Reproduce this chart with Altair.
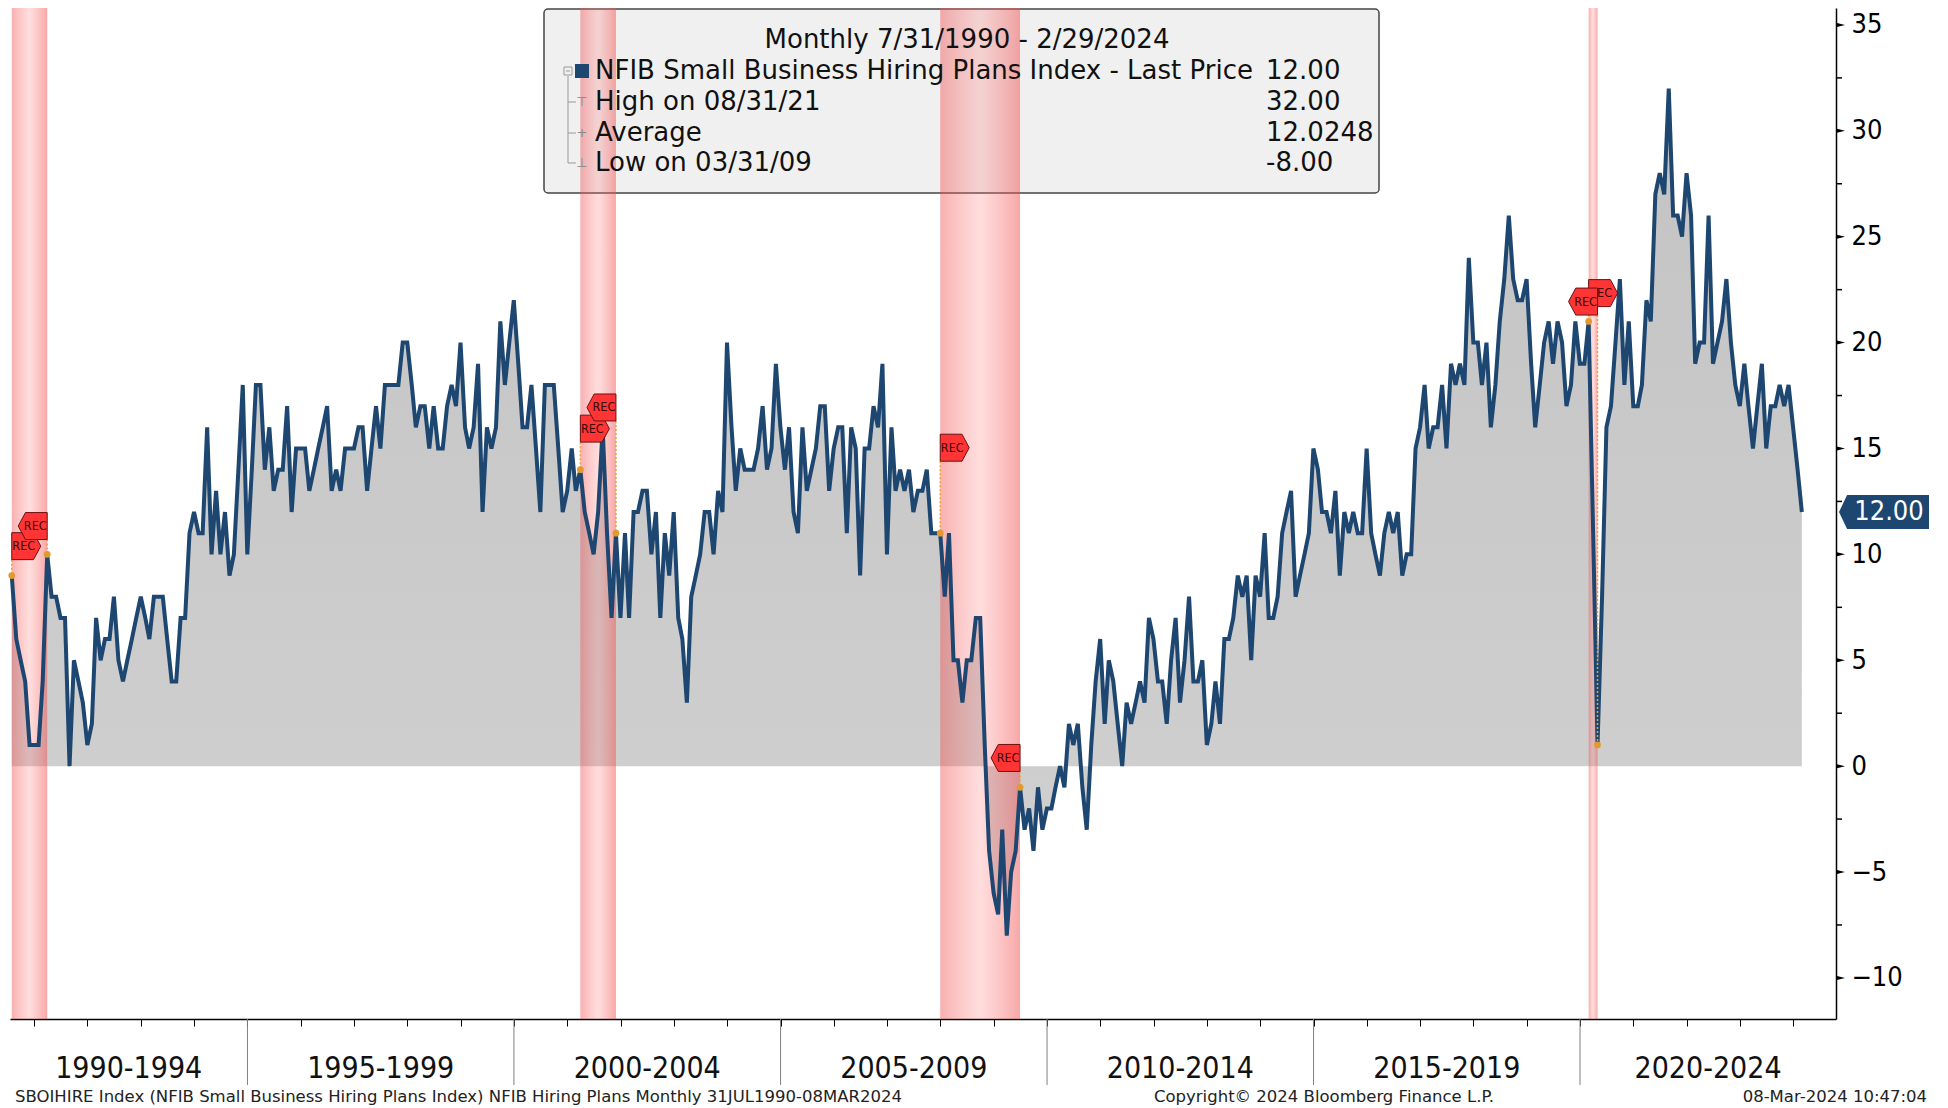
import altair as alt
import pandas as pd

FONT = "DejaVu Sans Condensed, Liberation Sans Narrow, DejaVu Sans, sans-serif"
FONT_WIDE = "DejaVu Sans, Verdana, sans-serif"

# ---------------- data ----------------
first_month = "1990-07-31"
values = [
    9, 6, 5, 4, 1, 1, 1, 4, 10, 8, 8, 7, 7, 0, 5, 4, 3, 1, 2, 7,
    5, 6, 6, 8, 5, 4, 5, 6, 7, 8, 7, 6, 8, 8, 8, 6, 4, 4, 7, 7,
    11, 12, 11, 11, 16, 10, 13, 10, 12, 9, 10, 14, 18, 10, 14, 18, 18, 14, 16, 13,
    14, 14, 17, 12, 15, 15, 15, 13, 14, 15, 16, 17, 13, 14, 13, 15, 15, 15, 16, 16,
    13, 15, 17, 15, 18, 18, 18, 18, 20, 20, 18, 16, 17, 17, 15, 17, 15, 15, 17, 18,
    17, 20, 16, 15, 16, 19, 12, 16, 15, 16, 21, 18, 20, 22, 19, 16, 16, 18, 15, 12,
    18, 18, 18, 15, 12, 13, 15, 13, 14, 12, 11, 10, 12, 16, 11, 7, 11, 7, 11, 7,
    12, 12, 13, 13, 10, 12, 7, 11, 9, 12, 7, 6, 3, 8, 9, 10, 12, 12, 10, 13,
    12, 20, 16, 13, 15, 14, 14, 14, 15, 17, 14, 15, 19, 16, 14, 16, 12, 11, 16, 13,
    14, 15, 17, 17, 13, 15, 16, 16, 11, 16, 15, 9, 15, 15, 17, 16, 19, 10, 16, 13,
    14, 13, 14, 12, 13, 13, 14, 11, 11, 11, 8, 11, 5, 5, 3, 5, 5, 7, 7, 1,
    -4, -6, -7, -3, -8, -5, -4, -1, -3, -2, -4, -1, -3, -2, -2, -1, 0, -1, 2, 1,
    2, -1, -3, 1, 4, 6, 2, 5, 4, 2, 0, 3, 2, 3, 4, 3, 7, 6, 4, 4,
    2, 5, 7, 3, 5, 8, 4, 4, 5, 1, 2, 4, 2, 6, 6, 7, 9, 8, 9, 5,
    9, 8, 11, 7, 7, 8, 11, 12, 13, 8, 9, 10, 11, 15, 14, 12, 12, 11, 13, 9,
    12, 11, 12, 11, 11, 15, 11, 10, 9, 11, 12, 11, 12, 9, 10, 10, 15, 16, 18, 15,
    16, 16, 18, 15, 19, 18, 19, 18, 24, 20, 20, 18, 20, 16, 18, 21, 23, 26, 23, 22,
    22, 23, 19, 16, 18, 20, 21, 19, 21, 20, 17, 18, 21, 19, 19, 21, 11, 1, 8, 16,
    17, 20, 23, 18, 21, 17, 17, 18, 22, 21, 27, 28, 27, 32, 26, 26, 25, 28, 26, 19,
    20, 20, 26, 19, 20, 21, 23, 20, 18, 17, 19, 17, 15, 17, 19, 15, 17, 17, 18, 17,
    18, 16, 14, 12,
]

rec_start = ["1990-07-31", "2001-03-31", "2007-12-31", "2020-02-29"]
rec_end = ["1991-03-31", "2001-11-30", "2009-06-30", "2020-04-30"]
tag_start_level = [9.75, 15.3, 14.4, 21.7]
tag_end_level = [10.7, 16.3, -0.25, 21.3]

period_labels = ["1990-1994", "1995-1999", "2000-2004", "2005-2009",
                 "2010-2014", "2015-2019", "2020-2024"]
period_first_year = [1990, 1995, 2000, 2005, 2010, 2015, 2020]

y_ticks = [-10, -5, 0, 5, 10, 15, 20, 25, 30, 35]
y_minor = [-7.5, -2.5, 2.5, 7.5, 12.5, 17.5, 22.5, 27.5, 32.5]

legend_title = "Monthly 7/31/1990 - 2/29/2024"
legend_labels = ["NFIB Small Business Hiring Plans Index - Last Price",
                 "High on 08/31/21", "Average", "Low on 03/31/09"]
legend_values = ["12.00", "32.00", "12.0248", "-8.00"]
legend_icons = ["", "\u22a4", "+", "\u22a5"]

footer_left = "SBOIHIRE Index (NFIB Small Business Hiring Plans Index) NFIB Hiring Plans  Monthly 31JUL1990-08MAR2024"
footer_mid = "Copyright\u00a9 2024 Bloomberg Finance L.P."
footer_right = "08-Mar-2024 10:47:04"

# ---------------- frames ----------------
dates = pd.date_range(first_month, periods=len(values), freq="ME")
series = pd.DataFrame({"date": dates.strftime("%Y-%m-%d"), "value": values})
lookup = dict(zip(series["date"], series["value"]))
last = series.tail(1).assign(label=lambda d: d["value"].map(lambda v: f"{v:.2f}"))

bands = pd.DataFrame({"start": rec_start, "end": rec_end})
starts = pd.DataFrame({"date": rec_start, "level": tag_start_level,
                       "val": [lookup[d] for d in rec_start], "t": "REC"})
ends = pd.DataFrame({"date": rec_end, "level": tag_end_level,
                     "val": [lookup[d] for d in rec_end], "t": "REC"})

dom_lo = pd.Timestamp("1990-07-19")
dom_hi = pd.Timestamp("2024-10-20")
mids, seps = [], []
for yr in period_first_year:
    a = pd.Timestamp(f"{yr}-01-01")
    b = pd.Timestamp(f"{yr + 5}-01-01")
    lo, hi = max(a, dom_lo), min(b, dom_hi)
    mids.append((lo + (hi - lo) / 2).strftime("%Y-%m-%dT%H:%M:%S"))
    if a > dom_lo:
        seps.append(a.strftime("%Y-%m-%d"))
periods = pd.DataFrame({"date": mids, "label": period_labels})
separators = pd.DataFrame({"date": seps})
ticks_major = pd.DataFrame({"t": y_ticks})
ticks_minor = pd.DataFrame({"t": y_minor})
one = pd.DataFrame({"k": [0]})

W, H = 1826, 1011
NAVY = "#1d4670"

xscale = alt.Scale(domain=[alt.DateTime(year=1990, month=7, date=19),
                           alt.DateTime(year=2024, month=10, date=20)], nice=False)
yscale = alt.Scale(domain=[-11.94, 35.8], nice=False, zero=False)

X = alt.X("date:T", scale=xscale, title=None,
          axis=alt.Axis(orient="bottom", labels=False, grid=False,
                        tickCount=alt.TimeIntervalStep(interval="year", step=1),
                        tickSize=7, tickColor="black", tickWidth=1,
                        domainColor="black", domainWidth=1.5))
Y = alt.Y("value:Q", scale=yscale, title=None,
          axis=alt.Axis(orient="right", values=y_ticks, grid=False, tickSize=0,
                        labelPadding=15, labelFont=FONT, labelFontSize=27,
                        labelColor="black", domainColor="black", domainWidth=1.5))

area_grad = alt.Gradient(gradient="linear", x1=0, x2=0, y1=0, y2=1,
                         stops=[alt.GradientStop(color="#c3c3c3", offset=0),
                                alt.GradientStop(color="#d1d1d1", offset=1)])
band_grad = alt.Gradient(gradient="linear", x1=0, x2=1, y1=0, y2=0,
                         stops=[alt.GradientStop(color="rgba(240,80,80,0.45)", offset=0),
                                alt.GradientStop(color="rgba(255,125,125,0.26)", offset=0.5),
                                alt.GradientStop(color="rgba(240,80,80,0.5)", offset=1)])

area = alt.Chart(series).mark_area(color=area_grad).encode(x=X, y=Y, y2=alt.datum(0))

# legend box
LX0, LX1, LY0, LY1 = 534, 1369, 1, 185
legend_bg = alt.Chart(one).mark_rect(fill="#f0f0f0", stroke="#444444", strokeWidth=1.5,
                                     cornerRadius=4).encode(
    x=alt.value(LX0), x2=alt.value(LX1), y=alt.value(LY0), y2=alt.value(LY1))

band_layer = alt.Chart(bands).mark_rect(color=band_grad).encode(
    x=alt.X("start:T", scale=xscale), x2="end:T", y=alt.value(0), y2=alt.value(H))

line = alt.Chart(series).mark_line(color=NAVY, strokeWidth=4, strokeJoin="miter").encode(
    x=alt.X("date:T", scale=xscale), y=alt.Y("value:Q", scale=yscale))

layers = [area, legend_bg, band_layer, line]

# legend content
LFS = 26
layers.append(alt.Chart(one).mark_text(text=legend_title, font=FONT_WIDE, fontSize=LFS,
                                       color="#111", align="center", baseline="middle").encode(
    x=alt.value(957), y=alt.value(32)))
row_y = [63, 94, 125, 155]
for i in range(4):
    layers.append(alt.Chart(one).mark_text(text=legend_labels[i], font=FONT_WIDE, fontSize=LFS,
                                           color="#111", align="left", baseline="middle").encode(
        x=alt.value(585), y=alt.value(row_y[i])))
    layers.append(alt.Chart(one).mark_text(text=legend_values[i], font=FONT_WIDE, fontSize=LFS,
                                           color="#111", align="left", baseline="middle").encode(
        x=alt.value(1256), y=alt.value(row_y[i])))
    if legend_icons[i]:
        layers.append(alt.Chart(one).mark_text(text=legend_icons[i], font="DejaVu Sans", fontSize=13,
                                               color="#888", align="center", baseline="middle").encode(
            x=alt.value(572), y=alt.value(row_y[i])))
        layers.append(alt.Chart(one).mark_rule(color="#999", strokeWidth=1).encode(
            x=alt.value(558), x2=alt.value(566), y=alt.value(row_y[i])))
layers.append(alt.Chart(one).mark_rect(fill=NAVY).encode(
    x=alt.value(565), x2=alt.value(579), y=alt.value(56), y2=alt.value(70)))
layers.append(alt.Chart(one).mark_rule(color="#999", strokeWidth=1).encode(
    x=alt.value(558), y=alt.value(68), y2=alt.value(row_y[3])))
layers.append(alt.Chart(one).mark_rect(fill="#f0f0f0", stroke="#999", strokeWidth=1).encode(
    x=alt.value(554), x2=alt.value(562), y=alt.value(59), y2=alt.value(67)))
layers.append(alt.Chart(one).mark_rule(color="#999", strokeWidth=1).encode(
    x=alt.value(556), x2=alt.value(560), y=alt.value(63)))

# recession tags
TAG_R = "M -1 -0.93 L 0.5 -0.93 L 1 0 L 0.5 0.93 L -1 0.93 Z"
TAG_L = "M 1 -0.93 L -0.5 -0.93 L -1 0 L -0.5 0.93 L 1 0.93 Z"
ORANGE = "#f0a030"
for frame in [starts, ends]:
    base = alt.Chart(frame)
    layers.append(base.mark_rule(color=ORANGE, strokeDash=[2, 2], strokeWidth=1.5).encode(
        x=alt.X("date:T", scale=xscale), y=alt.Y("level:Q", scale=yscale), y2="val:Q"))
    layers.append(base.mark_circle(color="#e29a2e", size=45, opacity=1).encode(
        x=alt.X("date:T", scale=xscale), y=alt.Y("val:Q", scale=yscale)))
for frame, shape, dx in [(starts, TAG_R, 14.5), (ends, TAG_L, -14.5)]:
    base = alt.Chart(frame)
    layers.append(base.mark_point(shape=shape, size=841, filled=True, fill="#ff3535",
                                  stroke="#6a1010", strokeWidth=1, opacity=1,
                                  xOffset=dx, yOffset=-13.5).encode(
        x=alt.X("date:T", scale=xscale), y=alt.Y("level:Q", scale=yscale)))
    layers.append(base.mark_text(font=FONT, fontSize=12.5, color="#3a0808",
                                 xOffset=dx - (2.5 if dx > 0 else -2.5), yOffset=-13.5,
                                 baseline="middle", align="center").encode(
        x=alt.X("date:T", scale=xscale), y=alt.Y("level:Q", scale=yscale), text="t:N"))

# right-axis decorations
layers.append(alt.Chart(ticks_major).mark_point(shape="M -1 -0.5 L 1 0 L -1 0.5 Z", size=81,
                                                filled=True, color="black", opacity=1).encode(
    x=alt.value(W + 4.5), y=alt.Y("t:Q", scale=yscale)))
layers.append(alt.Chart(ticks_minor).mark_rule(color="black", strokeWidth=1.5).encode(
    x=alt.value(W), x2=alt.value(W + 6), y=alt.Y("t:Q", scale=yscale)))
layers.append(alt.Chart(last).mark_point(shape="M -1 0 L -0.82 -0.38 L 1 -0.38 L 1 0.38 L -0.82 0.38 Z",
                                         size=8100, filled=True, color=NAVY, opacity=1).encode(
    x=alt.value(W + 48), y=alt.Y("value:Q", scale=yscale)))
layers.append(alt.Chart(last).mark_text(font=FONT, fontSize=27, color="white",
                                        align="center", baseline="middle").encode(
    x=alt.value(W + 53), y=alt.Y("value:Q", scale=yscale), text="label:N"))

# bottom period axis
layers.append(alt.Chart(separators).mark_rule(color="#808080", strokeWidth=1).encode(
    x=alt.X("date:T", scale=xscale), y=alt.value(H), y2=alt.value(H + 66)))
layers.append(alt.Chart(periods).mark_text(font=FONT, fontSize=30, color="#111",
                                           align="center", baseline="middle").encode(
    x=alt.X("date:T", scale=xscale), y=alt.value(H + 50), text="label:N"))

# footer
for txt, xpos, al in [(footer_left, 5, "left"), (footer_mid, 1314, "center"),
                      (footer_right, 1917, "right")]:
    layers.append(alt.Chart(one).mark_text(text=txt, font=FONT_WIDE, fontSize=16.5, color="#222",
                                           align=al, baseline="alphabetic").encode(
        x=alt.value(xpos), y=alt.value(H + 83)))

chart = alt.layer(*layers).properties(
    width=W, height=H,
    padding={"left": 2, "top": 0, "right": 104, "bottom": 89},
    autosize=alt.AutoSizeParams(type="none"),
    background="white",
).configure_view(stroke=None)

chart.save("out.html", embed_options={"renderer": "svg", "actions": False})
